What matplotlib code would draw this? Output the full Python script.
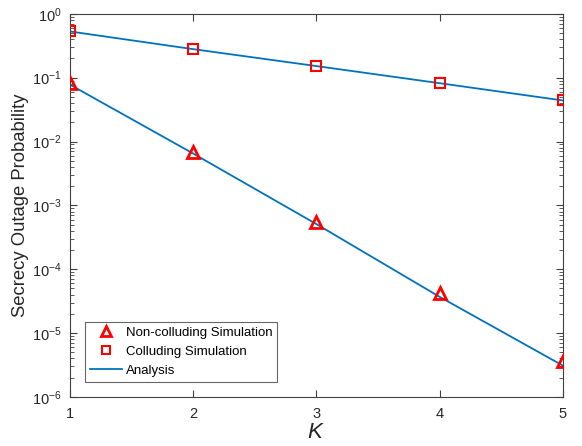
import matplotlib
matplotlib.use("Agg")
import matplotlib.pyplot as plt
from matplotlib.ticker import LogLocator, NullFormatter

plt.rcParams['font.family'] = ['Liberation Sans', 'DejaVu Sans']
plt.rcParams['mathtext.fontset'] = 'custom'
plt.rcParams['mathtext.rm'] = 'Liberation Sans'
plt.rcParams['mathtext.it'] = 'Liberation Sans:italic'
plt.rcParams['mathtext.bf'] = 'Liberation Sans:bold'

K = [1, 2, 3, 4, 5]
noncolluding_sim = [0.084, 0.0069, 5.5e-4, 4.2e-5, 3.7e-6]
noncolluding_ana = [0.078, 0.0065, 5.1e-4, 3.7e-5, 3.1e-6]
colluding_sim = [0.54, 0.28, 0.153, 0.083, 0.045]
colluding_ana = [0.53, 0.28, 0.152, 0.082, 0.044]
y_ticks = [1e-6, 1e-5, 1e-4, 1e-3, 1e-2, 1e-1, 1e0]
y_ticklabels = ['$10^{-6}$', '$10^{-5}$', '$10^{-4}$', '$10^{-3}$',
                '$10^{-2}$', '$10^{-1}$', '$10^{0}$']

fig = plt.figure(figsize=(5.82, 4.46), dpi=100)
ax = fig.add_axes([0.120, 0.110, 0.847, 0.859])

blue = '#0072BD'
ax.plot(K, noncolluding_ana, color=blue, lw=1.3, zorder=2)
ax.plot(K, colluding_ana, color=blue, lw=1.3, zorder=2)
ax.plot(K, noncolluding_sim, linestyle='none', marker='^', ms=9, mfc='none',
        mec='red', mew=2, zorder=3, label='Non-colluding Simulation')
ax.plot(K, colluding_sim, linestyle='none', marker='s', ms=7, mfc='none',
        mec='red', mew=1.5, zorder=3, label='Colluding Simulation')
ax.plot([], [], color=blue, lw=1.3, label='Analysis')

ax.set_yscale('log')
ax.set_xlim(1, 5)
ax.set_ylim(1e-6, 1)
ax.set_xticks(K)
ax.set_yticks(y_ticks)
ax.set_yticklabels(y_ticklabels)
ax.yaxis.set_minor_locator(LogLocator(base=10, subs=range(2, 10), numticks=20))
ax.yaxis.set_minor_formatter(NullFormatter())

for s in ax.spines.values():
    s.set_color('#404040')
    s.set_linewidth(0.8)
ax.tick_params(which='both', direction='in', top=True, right=True, colors='#404040',
               labelcolor='#262626', labelsize=10.5)
ax.tick_params(axis='y', pad=6)
ax.tick_params(axis='x', pad=7)
ax.tick_params(which='major', length=5)
ax.tick_params(which='minor', length=3)

ax.set_xlabel('$K$', fontsize=16, color='#262626', labelpad=1)
ax.set_ylabel('Secrecy Outage Probability', fontsize=13.3, color='#262626')
ax.yaxis.set_label_coords(-0.082, 0.5)

leg = ax.legend(loc='lower left', bbox_to_anchor=(0.030, 0.039), borderaxespad=0,
                fontsize=9.5, frameon=True, fancybox=False, edgecolor='#404040',
                handlelength=2.4, borderpad=0.4, labelspacing=0.5, handletextpad=0.3,
                markerscale=0.8)
leg.get_frame().set_linewidth(0.8)

fig.savefig('out.png', dpi=100)
